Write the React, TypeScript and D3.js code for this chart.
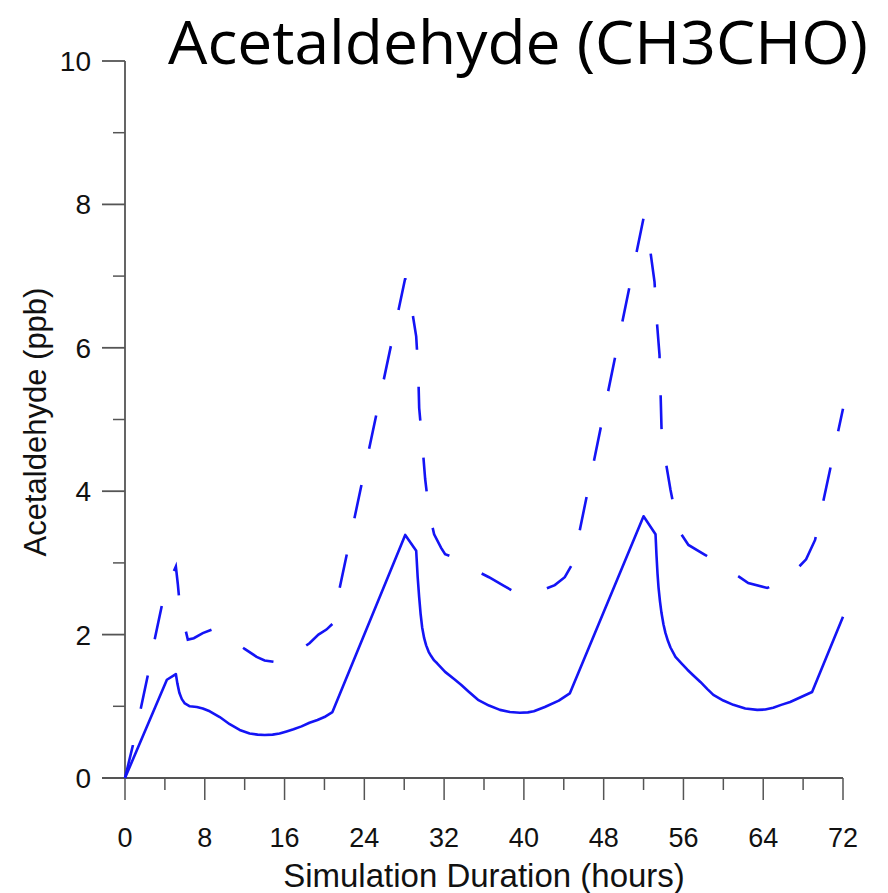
import React from "react";
import * as d3 from "d3";

const title = "Acetaldehyde (CH3CHO)";
const xLabel = "Simulation Duration (hours)";
const yLabel = "Acetaldehyde (ppb)";
const xTicks = [0, 8, 16, 24, 32, 40, 48, 56, 64, 72];
const xMinorTicks = [4, 12, 20, 28, 36, 44, 52, 60, 68];
const yTicks = [0, 2, 4, 6, 8, 10];
const yMinorTicks = [1, 3, 5, 7, 9];

// solid series [hour, ppb]
const solidSeries: [number, number][] = [
  [0, 0], [4.2, 1.37], [5.1, 1.45], [5.25, 1.32], [5.45, 1.19], [5.7, 1.1], [6.0, 1.04],
  [6.5, 1.0], [7.2, 0.99], [7.8, 0.97], [8.5, 0.93], [9.5, 0.85], [10.5, 0.75],
  [11.5, 0.67], [12.5, 0.62], [13.3, 0.605], [14, 0.6], [14.8, 0.605], [15.5, 0.62],
  [16.2, 0.65], [16.9, 0.68], [17.7, 0.72], [18.5, 0.77], [19.3, 0.81], [20, 0.85],
  [20.8, 0.92],
  [28.1, 3.39], [29.2, 3.17], [29.35, 2.8], [29.5, 2.52], [29.65, 2.28], [29.8, 2.1],
  [30.0, 1.95], [30.2, 1.85], [30.45, 1.76], [30.7, 1.7], [31.0, 1.64], [31.3, 1.6],
  [32.1, 1.48], [33.0, 1.38], [33.7, 1.3], [34.5, 1.2], [35.4, 1.09], [36.5, 1.01],
  [37.6, 0.95], [38.6, 0.92], [39.6, 0.91], [40.4, 0.915], [41, 0.93], [42.1, 0.99],
  [43.5, 1.08], [44.6, 1.18],
  [52.0, 3.65], [53.2, 3.4], [53.3, 3.1], [53.4, 2.85], [53.5, 2.66], [53.65, 2.46],
  [53.8, 2.3], [54.0, 2.14], [54.2, 2.02], [54.45, 1.91], [54.7, 1.82], [55.2, 1.69],
  [55.8, 1.6], [56.4, 1.51], [57.0, 1.43], [57.7, 1.34], [58.4, 1.24], [59, 1.16],
  [60, 1.08], [61, 1.02], [62.2, 0.97], [63.4, 0.95], [64.2, 0.955], [65, 0.98],
  [65.8, 1.02], [66.7, 1.06], [67.8, 1.13], [68.9, 1.2], [72, 2.25],
];

// dashed series [hour, ppb]
const dashedSeries: [number, number][] = [
  [0, 0], [0.8, 0.46], [1.6, 0.98], [2.3, 1.44], [3.0, 1.95], [3.7, 2.41], [4.4, 2.72],
  [5.1, 2.95], [5.3, 2.7], [5.5, 2.4], [6.3, 1.93], [6.9, 1.95], [7.8, 2.02],
  [8.7, 2.07], [9.4, 2.05], [10, 2.0], [11, 1.9], [12, 1.8], [13.2, 1.69],
  [14.0, 1.64], [14.9, 1.62], [15.7, 1.645], [16.4, 1.69], [17.5, 1.78], [18.5, 1.88],
  [19.4, 2.0], [20.2, 2.07], [20.8, 2.15], [21.1, 2.3], [21.3, 2.5],
  [28.1, 6.97], [28.6, 6.68], [29.2, 6.16], [29.4, 5.69], [29.5, 5.16], [29.8, 4.69],
  [30.1, 4.17], [30.5, 3.7], [31.0, 3.4], [31.7, 3.21], [32.1, 3.12], [33.1, 3.07],
  [34.4, 2.98], [35.1, 2.9], [36.5, 2.8], [38, 2.68], [39, 2.6], [40.3, 2.57],
  [41.5, 2.6], [43.1, 2.69], [44.1, 2.8], [44.8, 2.97], [45.2, 3.18],
  [52.0, 7.81], [52.6, 7.43], [53.1, 6.92], [53.3, 6.43], [53.6, 5.9], [53.7, 5.41],
  [53.8, 4.88], [54.2, 4.43], [54.7, 4.02], [55.5, 3.46], [56.5, 3.25], [58.2, 3.11],
  [59.4, 3.0], [61, 2.86], [62.5, 2.72], [64.4, 2.65], [65.5, 2.72], [67.2, 2.89],
  [68.3, 3.05], [69.2, 3.32], [69.9, 3.78], [70.7, 4.3], [71.4, 4.76], [72, 5.15],
];

const W = 888;
const H = 893;
const X0 = 125;
const X1 = 843;
const Y0 = 778;
const Y1 = 61;

export default function App() {
  const x = d3.scaleLinear().domain([0, 72]).range([X0, X1]);
  const y = d3.scaleLinear().domain([0, 10]).range([Y0, Y1]);
  const line = d3
    .line<[number, number]>()
    .x((d) => x(d[0]))
    .y((d) => y(d[1]))
    .curve(d3.curveLinear);
  const axisColor = "#555";
  const lineColor = "#1414f5";
  const tickFont = "'Liberation Sans', Arial, sans-serif";
  return (
    <svg
      width={W}
      height={H}
      style={{ position: "absolute", left: 0, top: 0, background: "#fff" }}
    >
      <rect x={0} y={0} width={W} height={H} fill="#fff" />
      <text
        x={168}
        y={64}
        fontFamily="'Open Sans', 'Noto Sans', sans-serif"
        fontSize={60}
        textLength={700}
        lengthAdjust="spacingAndGlyphs"
        fill="#000"
      >
        {title}
      </text>
      {/* y axis */}
      <line x1={X0} x2={X0} y1={Y1} y2={Y0} stroke={axisColor} strokeWidth={1.8} />
      {yTicks.map((t) => (
        <g key={"y" + t}>
          <line x1={X0 - 23} x2={X0} y1={y(t)} y2={y(t)} stroke={axisColor} strokeWidth={1.8} />
          <text
            x={91}
            y={y(t) + 10}
            textAnchor="end"
            fontFamily={tickFont}
            fontSize={28}
            fill="#111"
          >
            {t}
          </text>
        </g>
      ))}
      {yMinorTicks.map((t) => (
        <line key={"ym" + t} x1={X0 - 12} x2={X0} y1={y(t)} y2={y(t)} stroke={axisColor} strokeWidth={1.5} />
      ))}
      {/* x axis */}
      <line x1={X0 - 23} x2={X1} y1={Y0} y2={Y0} stroke={axisColor} strokeWidth={1.8} />
      {xTicks.map((t) => (
        <g key={"x" + t}>
          <line x1={x(t)} x2={x(t)} y1={Y0} y2={Y0 + 22} stroke={axisColor} strokeWidth={1.5} />
          <text
            x={x(t)}
            y={847}
            textAnchor="middle"
            fontFamily={tickFont}
            fontSize={27}
            fill="#111"
          >
            {t}
          </text>
        </g>
      ))}
      {xMinorTicks.map((t) => (
        <line key={"xm" + t} x1={x(t)} x2={x(t)} y1={Y0} y2={Y0 + 12} stroke={axisColor} strokeWidth={1.5} />
      ))}
      <text
        x={484}
        y={887}
        textAnchor="middle"
        fontFamily={tickFont}
        fontSize={33}
        fill="#111"
      >
        {xLabel}
      </text>
      <text
        transform={`translate(46, 422) rotate(-90)`}
        textAnchor="middle"
        fontFamily={tickFont}
        fontSize={31}
        fill="#111"
      >
        {yLabel}
      </text>
      <path
        d={line(dashedSeries) || ""}
        fill="none"
        stroke={lineColor}
        strokeWidth={2.6}
        strokeDasharray="34 37"
      />
      <path
        d={line(solidSeries) || ""}
        fill="none"
        stroke={lineColor}
        strokeWidth={2.6}
        strokeLinejoin="round"
      />
    </svg>
  );
}
